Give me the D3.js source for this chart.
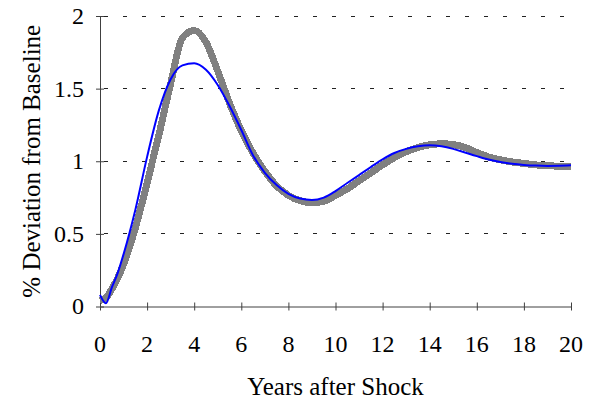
<!DOCTYPE html>
<html><head><meta charset="utf-8"><script src="https://cdn.jsdelivr.net/npm/d3@7"></script>
<style>
  text { font-family: "Liberation Serif", Tinos, "Times New Roman", "DejaVu Serif" !important; }
</style>
</head>
<body style="margin:0">
<svg id="chart" width="595" height="402" style="display:block;background:#fff" font-family="Liberation Serif"></svg>
<script>
const years = [0,0.25,0.5,0.75,1,1.5,2,2.5,3,3.5,4,4.5,5,5.5,6,6.5,7,7.5,8,8.5,9,9.5,10,10.5,11,11.5,12,12.5,13,13.5,14,14.5,15,15.5,16,16.5,17,17.5,18,18.5,19,19.5,20];
const greySeries = [0.04,0.06,0.12,0.195,0.29,0.54,0.85,1.18,1.535,1.85,1.90,1.82,1.62,1.40,1.21,1.055,0.93,0.83,0.765,0.728,0.715,0.725,0.765,0.81,0.865,0.92,0.975,1.025,1.065,1.095,1.113,1.12,1.115,1.095,1.06,1.03,1.01,0.995,0.985,0.975,0.97,0.965,0.962];
const blueSeries = [0.08,0.022,0.13,0.23,0.36,0.665,1.03,1.35,1.565,1.66,1.675,1.63,1.525,1.38,1.215,1.04,0.92,0.836,0.775,0.743,0.733,0.75,0.795,0.85,0.905,0.96,1.013,1.057,1.085,1.103,1.11,1.103,1.085,1.06,1.035,1.012,0.995,0.983,0.975,0.97,0.968,0.969,0.972];
const xTicks = [0,2,4,6,8,10,12,14,16,18,20];
const yTicks = [0,0.5,1,1.5,2];
const yTickLabels = ["0","0.5","1","1.5","2"];
const xTitle = "Years after Shock";
const yTitle = "% Deviation from Baseline";

const svg = d3.select("#chart");
const mLeft = 100, mRight = 571, mTop = 16, mBottom = 306.5;
const xScale = d3.scaleLinear().domain([0, 20]).range([mLeft, mRight]);
const yScale = d3.scaleLinear().domain([0, 2]).range([mBottom, mTop]);
const fam = '"Liberation Serif"';

svg.append("g").selectAll("line").data(yTicks.filter(d => d > 0)).join("line")
  .attr("x1", mLeft).attr("x2", mRight)
  .attr("y1", d => yScale(d)).attr("y2", d => yScale(d))
  .attr("stroke", "#222").attr("stroke-width", 1)
  .attr("stroke-dasharray", "4,15").attr("stroke-dashoffset", -4)
  .attr("shape-rendering", "crispEdges");

const xAxis = svg.append("g").attr("transform", `translate(0,${mBottom})`)
  .call(d3.axisBottom(xScale).tickValues(xTicks).tickSize(0).tickFormat(""));
xAxis.attr("font-family", null);
xAxis.select(".domain").attr("stroke", "#404040");
xAxis.selectAll(".tick line").attr("y1", -4).attr("y2", 4).attr("stroke", "#404040");
xAxis.selectAll(".tick text").remove();

const yAxis = svg.append("g").attr("transform", `translate(${mLeft},0)`)
  .call(d3.axisLeft(yScale).tickValues(yTicks).tickSize(0).tickFormat(""));
yAxis.attr("font-family", null);
yAxis.select(".domain").attr("stroke", "#404040");
yAxis.selectAll(".tick line").attr("x1", -4).attr("x2", 4).attr("stroke", "#404040");
yAxis.selectAll(".tick text").remove();

svg.append("g").selectAll("text").data(xTicks).join("text")
  .attr("x", d => xScale(d)).attr("y", mBottom + 45)
  .attr("text-anchor", "middle").attr("font-family", "Liberation Serif")
  .style("font-family", fam).style("font-size", "24px").attr("fill", "#000")
  .text(d => String(d));
svg.append("g").selectAll("text").data(yTicks).join("text")
  .attr("x", mLeft - 16).attr("y", d => yScale(d)).attr("dy", "0.33em")
  .attr("text-anchor", "end").attr("font-family", "Liberation Serif")
  .style("font-family", fam).style("font-size", "24px").attr("fill", "#000")
  .text((d, i) => yTickLabels[i]);

const lineGen = vals => d3.line().x((d, i) => xScale(years[i])).y(d => yScale(d)).curve(d3.curveMonotoneX)(vals);
svg.append("path").attr("d", lineGen(greySeries))
  .attr("fill", "none").attr("stroke", "#808080").attr("stroke-width", 7)
  .attr("shape-rendering", "crispEdges");
svg.append("path").attr("d", lineGen(blueSeries))
  .attr("fill", "none").attr("stroke", "#0000ff").attr("stroke-width", 2);

svg.append("text").attr("x", (mLeft + mRight) / 2).attr("y", 395)
  .attr("text-anchor", "middle").attr("font-family", "Liberation Serif")
  .style("font-family", fam).style("font-size", "25px")
  .text(xTitle);
svg.append("text").attr("transform", `translate(40,${(mTop + mBottom) / 2}) rotate(-90)`)
  .attr("text-anchor", "middle").attr("font-family", "Liberation Serif")
  .style("font-family", fam).style("font-size", "25px")
  .text(yTitle);

svg.selectAll("text").each(function () { this.getComputedTextLength(); });
</script>
</body>
</html>
